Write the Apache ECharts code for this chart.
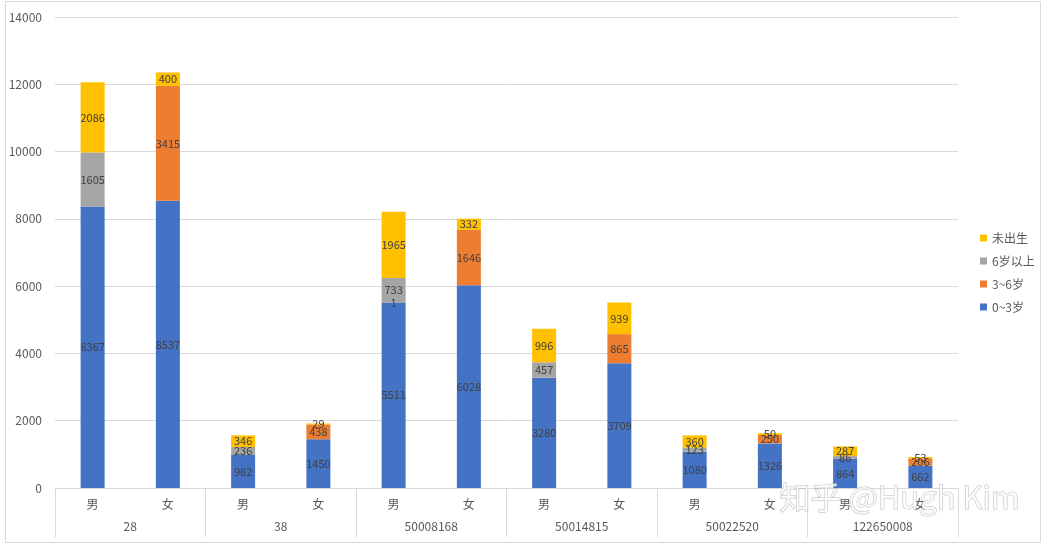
<!DOCTYPE html>
<html>
<head>
<meta charset="utf-8">
<script src="https://cdn.jsdelivr.net/npm/echarts@6/dist/echarts.min.js"></script>
<style>html,body{margin:0;padding:0;background:#fff;}#c{width:1047px;height:549px;}</style>
</head>
<body>
<div id="c"></div>
<script>
const genders = ['男','女','男','女','男','女','男','女','男','女','男','女'];
const groups = ['28','38','50008168','50014815','50022520','122650008'];
const s0to3 = [8367, 8537, 982, 1450, 5511, 6028, 3280, 3709, 1080, 1326, 864, 662];
const s3to6 = [null, 3415, null, 438, 1, 1646, null, 865, null, 250, null, 206];
const s6plus = [1605, null, 236, null, 733, null, 457, null, 123, null, 86, null];
const sUnborn = [2086, 400, 346, 29, 1965, 332, 996, 939, 360, 50, 287, 53];
const yTicks = {min: 0, max: 14000, interval: 2000};

const FONT = '"Noto Sans CJK SC", "Noto Sans", sans-serif';
const chart = echarts.init(document.getElementById('c'));
const lbl = {show: true, position: 'inside', color: '#404040', fontSize: 11, fontFamily: FONT};
function mk(name, data, color) {
  return {name: name, type: 'bar', stack: 'a', data: data, barWidth: 24,
    itemStyle: {color: color}, label: lbl, xAxisIndex: 0};
}
chart.setOption({
  animation: false,
  textStyle: {fontFamily: FONT},
  grid: {left: 55, right: 89, top: 17, bottom: 61, containLabel: false},
  legend: {
    orient: 'vertical', left: 975, top: 227, itemWidth: 7, itemHeight: 7, itemGap: 11,
    icon: 'rect', textStyle: {color: '#595959', fontSize: 12, fontFamily: FONT},
    data: ['未出生', '6岁以上', '3~6岁', '0~3岁']
  },
  xAxis: [
    {type: 'category', data: genders, position: 'bottom',
      axisLine: {show: true, lineStyle: {color: '#d9d9d9'}},
      axisTick: {show: false},
      axisLabel: {color: '#595959', fontSize: 12, margin: 10, interval: 0}},
    {type: 'category', data: groups, position: 'bottom',
      axisLine: {show: false},
      axisTick: {show: true, length: 49, lineStyle: {color: '#d9d9d9'}},
      axisLabel: {color: '#595959', fontSize: 12, margin: 32, interval: 0}}
  ],
  yAxis: {type: 'value', min: yTicks.min, max: yTicks.max, interval: yTicks.interval,
    axisLine: {show: false}, axisTick: {show: false},
    splitLine: {lineStyle: {color: '#d9d9d9'}},
    axisLabel: {color: '#595959', fontSize: 12, margin: 13, formatter: function (v) { return String(v); }}},
  series: [
    mk('0~3岁', s0to3, '#4472C4'),
    mk('3~6岁', s3to6, '#ED7D31'),
    mk('6岁以上', s6plus, '#A5A5A5'),
    mk('未出生', sUnborn, '#FFC000')
  ],
  graphic: [
    {type: 'rect', shape: {x: 5.5, y: 1.5, width: 1035, height: 541}, silent: true,
      style: {fill: 'none', stroke: '#d9d9d9', lineWidth: 1}, z: -10},
    {type: 'text', left: 779, top: 481, z: 100, silent: true,
      style: {text: '知乎 @Hugh Kim', fontSize: 31, fontFamily: FONT,
        fill: 'rgba(255,255,255,0.75)', stroke: 'rgba(140,140,140,0.55)', lineWidth: 1}}
  ]
});
</script>
</body>
</html>
